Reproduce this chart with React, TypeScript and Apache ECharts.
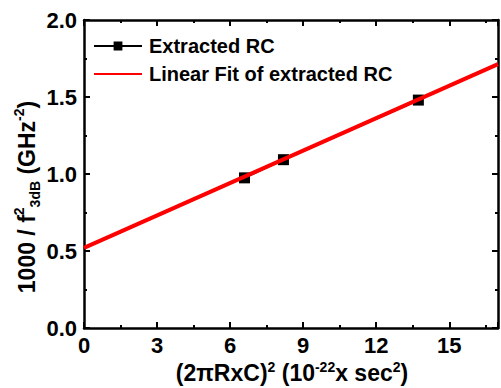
import React, { useEffect, useRef } from 'react';
import * as echarts from 'echarts';

const seriesNames = ['Extracted RC', 'Linear Fit of extracted RC'];
const extractedX = [6.59, 8.19, 13.73];
const extractedY = [0.975, 1.093, 1.48];
const fitX = [0, 17];
const fitY = [0.52, 1.713];
const xTickLabels = ['0', '3', '6', '9', '12', '15'];
const yTickLabels = ['0.0', '0.5', '1.0', '1.5', '2.0'];
const xTitle = '(2\u03c0RxC){sup|2} (10{sup|-22}x sec{sup|2})';
const yTitle = '1000 / f{sup|2}{sub|3dB} (GHz{sup|-2})';

const FONT = "'Liberation Sans', Arial, Helvetica, sans-serif";

function axisBase(showLabel: boolean) {
  return {
    type: 'value' as const,
    splitLine: { show: false },
    axisLine: { show: true, onZero: false, lineStyle: { color: '#000', width: 2.5 } },
    axisTick: { show: true, inside: true, length: 6, lineStyle: { color: '#000', width: 2 } },
    minorTick: { show: true, splitNumber: 2, length: 3, lineStyle: { color: '#000', width: 2 } },
    axisLabel: {
      show: showLabel,
      color: '#000',
      fontFamily: FONT,
      fontWeight: 'bold' as const,
      fontSize: 22,
    },
  };
}

export default function App() {
  const ref = useRef<HTMLDivElement>(null);
  useEffect(() => {
    document.body.style.margin = '0';
    if (!ref.current) return;
    const chart = echarts.init(ref.current, undefined, { renderer: 'svg' });
    const xb = axisBase(true);
    const yb = axisBase(true);
    const option: any = {
      animation: false,
      backgroundColor: '#fff',
      grid: { left: 84, right: 1, top: 20, bottom: 60, containLabel: false },
      legend: {
        orient: 'vertical',
        left: 93,
        top: 36,
        padding: 0,
        itemWidth: 48,
        itemHeight: 11,
        itemGap: 8,
        data: [
          { name: seriesNames[0] },
          { name: seriesNames[1], itemStyle: { opacity: 0 } },
        ],
        lineStyle: { width: 2 },
        textStyle: { color: '#000', fontFamily: FONT, fontWeight: 'bold', fontSize: 20, padding: [0, 0, 0, 2] },
      },
      xAxis: [
        {
          ...xb,
          min: 0,
          max: 17,
          interval: 3,
          position: 'bottom',
          axisLabel: {
            ...xb.axisLabel,
            margin: 6,
            formatter: (v: number) => (xTickLabels.includes(String(v)) ? String(v) : ''),
          },
        },
        {
          ...axisBase(false),
          min: 0,
          max: 17,
          interval: 3,
          position: 'top',
        },
      ],
      yAxis: [
        {
          ...yb,
          min: 0,
          max: 2,
          interval: 0.5,
          position: 'left',
          axisLabel: {
            ...yb.axisLabel,
            margin: 7,
            formatter: (v: number) => (yTickLabels.includes(v.toFixed(1)) ? v.toFixed(1) : ''),
          },
        },
        {
          ...axisBase(false),
          min: 0,
          max: 2,
          interval: 0.5,
          position: 'right',
        },
      ],
      graphic: [
        {
          type: 'text',
          x: 292,
          y: 373,
          style: {
            text: xTitle,
            align: 'center',
            verticalAlign: 'middle',
            fill: '#000',
            fontFamily: FONT,
            fontWeight: 'bold',
            fontSize: 23,
            lineHeight: 27,
            rich: {
              sup: { fontSize: 14, fontWeight: 'bold', fontFamily: FONT, verticalAlign: 'top', lineHeight: 27, fill: '#000' },
            },
          },
        },
        {
          type: 'text',
          x: 27,
          y: 197,
          rotation: Math.PI / 2,
          style: {
            text: yTitle,
            align: 'center',
            verticalAlign: 'middle',
            fill: '#000',
            fontFamily: FONT,
            fontWeight: 'bold',
            fontSize: 23,
            lineHeight: 30,
            rich: {
              sup: { fontSize: 14, fontWeight: 'bold', fontFamily: FONT, verticalAlign: 'top', lineHeight: 30, fill: '#000' },
              sub: { fontSize: 14, fontWeight: 'bold', fontFamily: FONT, verticalAlign: 'bottom', lineHeight: 30, fill: '#000' },
            },
          },
        },
      ],
      series: [
        {
          name: seriesNames[0],
          type: 'line',
          xAxisIndex: 0,
          yAxisIndex: 0,
          data: extractedX.map((x, i) => [x, extractedY[i]]),
          symbol: 'rect',
          symbolSize: 11,
          showSymbol: true,
          lineStyle: { color: '#000', width: 2 },
          itemStyle: { color: '#000' },
          z: 2,
        },
        {
          name: seriesNames[1],
          type: 'line',
          xAxisIndex: 0,
          yAxisIndex: 0,
          data: fitX.map((x, i) => [x, fitY[i]]),
          symbol: 'none',
          showSymbol: false,
          lineStyle: { color: '#ff0000', width: 4 },
          itemStyle: { color: '#ff0000' },
          z: 5,
        },
      ],
    };
    chart.setOption(option);
    return () => chart.dispose();
  }, []);
  return <div ref={ref} style={{ width: 501, height: 388 }} />;
}
